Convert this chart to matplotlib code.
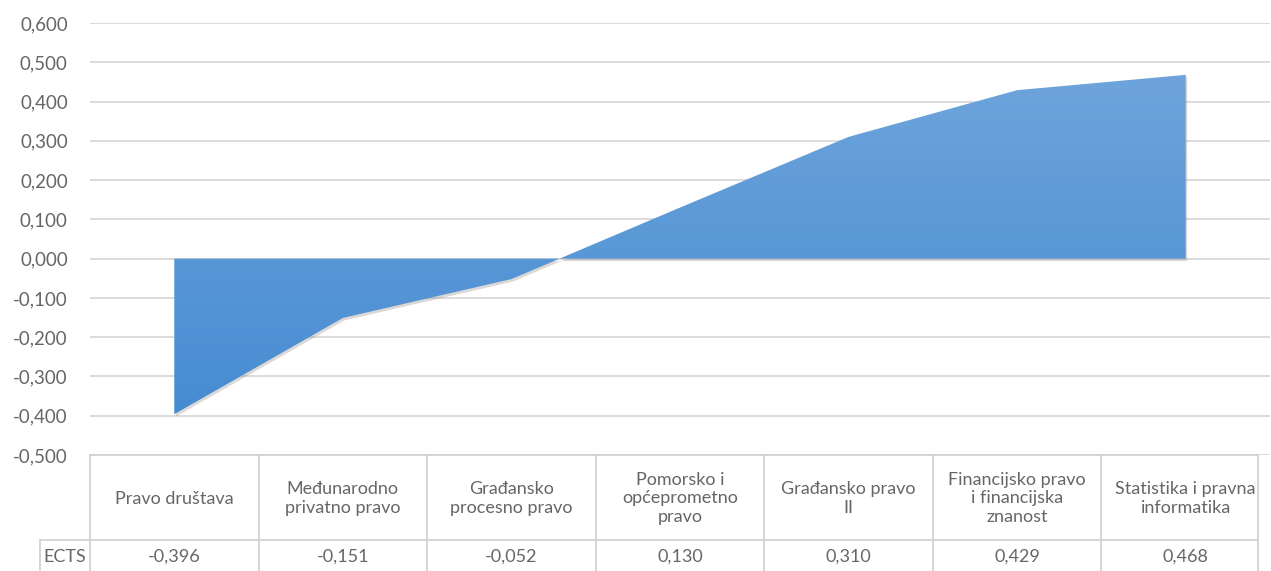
import matplotlib
matplotlib.use("Agg")
import matplotlib.pyplot as plt
import matplotlib.transforms as mtransforms
from matplotlib.patches import Polygon
from matplotlib.lines import Line2D
import numpy as np

categories = ["Pravo društava", "Međunarodno\nprivatno pravo", "Građansko\nprocesno pravo",
              "Pomorsko i\nopćeprometno\npravo", "Građansko pravo\nII",
              "Financijsko pravo\ni financijska\nznanost", "Statistika i pravna\ninformatika"]
values = [-0.396, -0.151, -0.052, 0.130, 0.310, 0.429, 0.468]
value_labels = ["-0,396", "-0,151", "-0,052", "0,130", "0,310", "0,429", "0,468"]
series_name = "ECTS"
yticks = np.arange(-0.5, 0.61, 0.1)

W, H = 1271, 571
plt.rcParams['font.family'] = ['Lato', 'DejaVu Sans']
fig = plt.figure(figsize=(W / 100, H / 100), dpi=100)

left, right, top, bottom = 90, 1270, 23, 455
ax = fig.add_axes([left / W, 1 - bottom / H, (right - left) / W, (bottom - top) / H])

x = np.arange(len(values))
ax.set_xlim(-0.5, len(values) - 0.5)
ax.set_ylim(-0.5, 0.6)
ax.set_yticks(yticks)
ax.set_yticklabels([f"{t:.3f}".replace(".", ",").replace("-0,000", "0,000") for t in yticks],
                   fontsize=13.5, color="#666666")
ax.tick_params(axis="y", length=0, pad=16)
ax.set_xticks([])
for s in ax.spines.values():
    s.set_visible(False)
ax.yaxis.grid(True, color="#d9d9d9", linewidth=1.3)
ax.set_axisbelow(True)

verts = [(x[0], 0)] + list(zip(x, values)) + [(x[-1], 0)]

# shadow
shadow_tr = ax.transData + mtransforms.ScaledTranslation(1.5 / 100, -2.5 / 100, fig.dpi_scale_trans)
ax.add_patch(Polygon(verts, closed=True, facecolor="#8a7f78", alpha=0.3,
                     edgecolor="none", transform=shadow_tr, zorder=2))
poly = Polygon(verts, closed=True, facecolor="none", edgecolor="none", zorder=3)
ax.add_patch(poly)

# gradient fill
grad = np.linspace(0, 1, 256).reshape(-1, 1)
c_top = np.array([0x6e, 0xa4, 0xdb]) / 255
c_bot = np.array([0x46, 0x8c, 0xd2]) / 255
img = c_bot + (c_top - c_bot) * grad[..., None]
im = ax.imshow(img, extent=[x[0], x[-1], min(values), max(values)], origin="lower",
               aspect="auto", zorder=3)
im.set_clip_path(poly)

# data table
def px(xp, yp):
    return xp / W, 1 - yp / H

line_kw = dict(color="#d0d0d0", linewidth=1.2, transform=fig.transFigure)
t_top, t_mid, t_bot = 455, 540, 571
t_right = 1258
label_left = 40
col_w = (right - left) / len(values)
col_edges = [left + i * col_w for i in range(len(values))] + [t_right]

fig.add_artist(Line2D(*zip(px(left, t_top), px(t_right, t_top)), **line_kw))
fig.add_artist(Line2D(*zip(px(label_left, t_mid), px(t_right, t_mid)), **line_kw))
fig.add_artist(Line2D(*zip(px(label_left, t_mid), px(label_left, t_bot)), **line_kw))
for xe in col_edges:
    fig.add_artist(Line2D(*zip(px(xe, t_top), px(xe, t_bot)), **line_kw))

txt_kw = dict(ha="center", va="center", fontsize=13, color="#666666")
for i, (cat, lab) in enumerate(zip(categories, value_labels)):
    cx = left + (i + 0.5) * col_w
    fig.text(*px(cx, (t_top + t_mid) / 2 + 1), cat, linespacing=1.2, **txt_kw)
    fig.text(*px(cx, (t_mid + t_bot) / 2 + 1), lab, **txt_kw)
fig.text(*px((label_left + left) / 2, (t_mid + t_bot) / 2 + 1), series_name, **txt_kw)

fig.savefig("out.png", dpi=100)
